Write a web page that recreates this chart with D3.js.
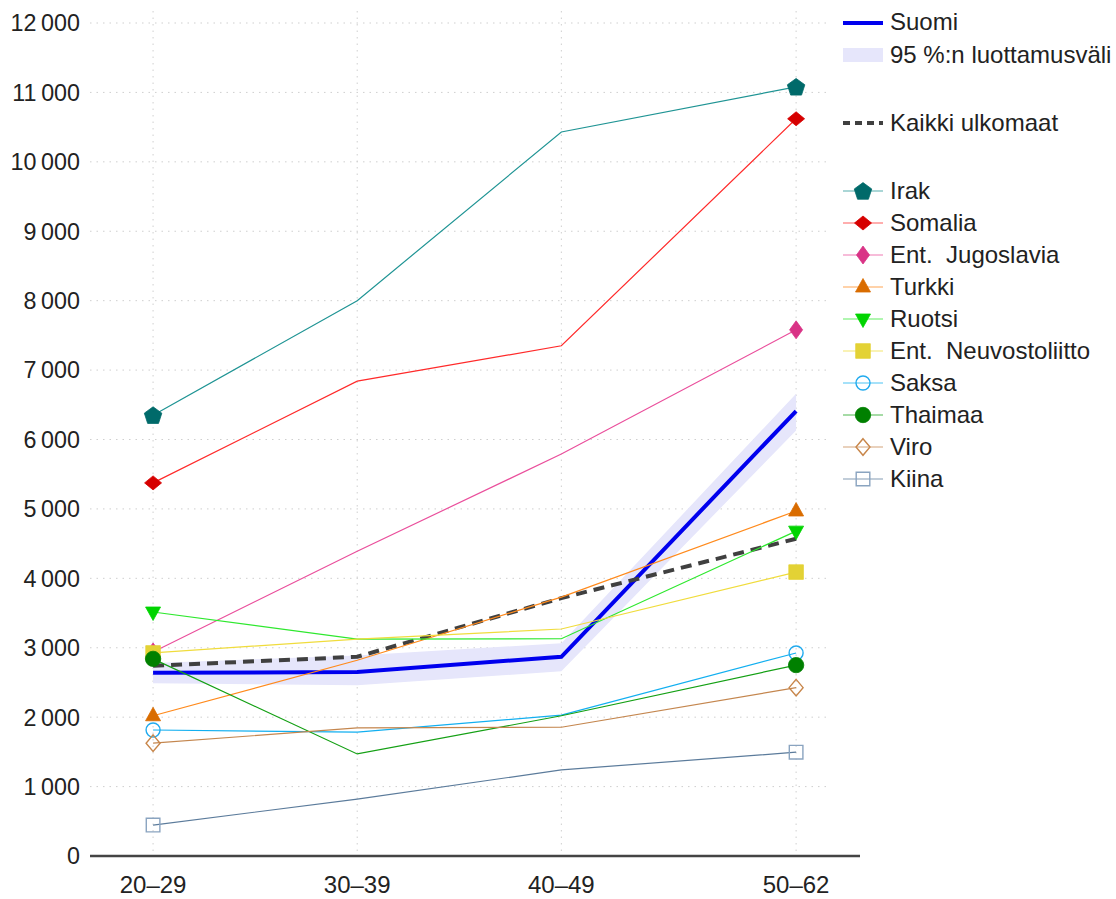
<!DOCTYPE html>
<html><head><meta charset="utf-8">
<script src="https://cdn.jsdelivr.net/npm/d3@7"></script>
<style>
body{margin:0;background:#fff;}
svg{display:block;font-family:"Liberation Sans",Arial,sans-serif;}
text{white-space:pre;}
</style></head>
<body><svg id="c" width="1116" height="899"></svg>
<script>
// ---- data ----
const categories = ["20–29","30–39","40–49","50–62"];
const ageMid = [24.5, 34.5, 44.5, 56];
const yTicks = [0,1000,2000,3000,4000,5000,6000,7000,8000,9000,10000,11000,12000];

const suomi = [2640, 2650, 2870, 6410];
const suomiLower = [2490, 2460, 2660, 6130];
const suomiUpper = [2780, 2890, 3065, 6660];
const kaikkiUlkomaat = [2740, 2870, 3715, 4570];

const seriesNames = ["Irak","Somalia","Ent.  Jugoslavia","Turkki","Ruotsi","Ent.  Neuvostoliitto","Saksa","Thaimaa","Viro","Kiina"];
const irak         = [6350, 8000, 10430, 11080];
const somalia      = [5375, 6840, 7350, 10620];
const jugoslavia   = [2940, 4390, 5790, 7580];
const turkki       = [2020, 2820, 3730, 4970];
const ruotsi       = [3515, 3125, 3130, 4680];
const neuvosto     = [2925, 3125, 3270, 4090];
const saksa        = [1815, 1785, 2030, 2925];
const thaimaa      = [2840, 1470, 2020, 2750];
const viro         = [1625, 1845, 1855, 2425];
const kiina        = [445, 820, 1240, 1495];
const seriesValues = [irak, somalia, jugoslavia, turkki, ruotsi, neuvosto, saksa, thaimaa, viro, kiina];

// styles
const lineColors   = ["#1f9494","#ff2a2a","#ea4f9c","#ff8a1c","#2ee82e","#f0dc3c","#12aff0","#14a014","#c4864e","#5b7b9b"];
const markerColors = ["#006a6a","#d60000","#d93386","#d96c00","#00d400","#e3d235","#20aaee","#008000","#c8864a","#8aa4c0"];
const markerShapes = ["pentagon","diamondWide","diamondTall","triUp","triDown","square","circleOpen","circle","diamondOpen","squareOpen"];

// ---- layout ----
const svg = d3.select("#c");
const X0 = 90, X1 = 860, GRID_X1 = 831;
const x = d3.scaleLinear().domain([21.41, 59.13]).range([X0, X1]);
const y = d3.scaleLinear().domain([0, 12000]).range([856, 23]);
const fmt = d3.formatLocale({decimal:",", thousands:"\u2009", grouping:[3], currency:["","€"]}).format(",d");

// grid
svg.append("g").selectAll("line").data(yTicks).join("line")
  .attr("x1", X0).attr("x2", GRID_X1)
  .attr("y1", d=>y(d)).attr("y2", d=>y(d))
  .attr("stroke","#cfcfcf").attr("stroke-width",1).attr("stroke-dasharray","1.5,5");
svg.append("g").selectAll("line").data(ageMid).join("line")
  .attr("x1", d=>x(d)).attr("x2", d=>x(d))
  .attr("y1", 11).attr("y2", 856)
  .attr("stroke","#cfcfcf").attr("stroke-width",1).attr("stroke-dasharray","1.5,5");

// y labels
svg.append("g").selectAll("text").data(yTicks).join("text")
  .attr("x", 80).attr("y", d=>y(d)).attr("dy","0.36em")
  .attr("text-anchor","end").attr("font-size",23.3).attr("fill","#222")
  .text(d=>fmt(d));
// x labels
svg.append("g").selectAll("text").data(categories).join("text")
  .attr("x", (d,i)=>x(ageMid[i])).attr("y", 893)
  .attr("text-anchor","middle").attr("font-size",24).attr("fill","#222")
  .text(d=>d);

// band
const area = d3.area().x((d,i)=>x(ageMid[i])).y0((d,i)=>y(suomiLower[i])).y1((d,i)=>y(suomiUpper[i]));
svg.append("path").datum(suomi).attr("d", area).attr("fill","#e6e6fb");

const line = d3.line().x((d,i)=>x(ageMid[i])).y(d=>y(d));
svg.append("path").datum(suomi).attr("d", line).attr("fill","none")
  .attr("stroke","#0000ee").attr("stroke-width",4).attr("stroke-linejoin","miter");
svg.append("path").datum(kaikkiUlkomaat).attr("d", line).attr("fill","none")
  .attr("stroke","#404040").attr("stroke-width",4).attr("stroke-dasharray","11,7");

// marker shapes
function shapePath(s){
  switch(s){
    case "pentagon": {
      const r=9.2, pts=[];
      for(let k=0;k<5;k++){const a=-Math.PI/2+k*2*Math.PI/5; pts.push([r*Math.cos(a), r*Math.sin(a)+0.8]);}
      return "M"+pts.map(p=>p.join(",")).join("L")+"Z";
    }
    case "diamondWide": return "M0,-7L8.5,0L0,7L-8.5,0Z";
    case "diamondTall": return "M0,-9L6.5,0L0,9L-6.5,0Z";
    case "diamondOpen": return "M0,-8.3L7,0L0,8.3L-7,0Z";
    case "triUp": return "M0,-8.5L7.5,5L-7.5,5Z";
    case "triDown": return "M-7.5,-5L7.5,-5L0,8.5Z";
    case "square": return "M-7.3,-7.3H7.3V7.3H-7.3Z";
    case "squareOpen": return "M-6.8,-6.8H6.8V6.8H-6.8Z";
    case "circle": return d3.symbol(d3.symbolCircle, Math.PI*7.7*7.7)();
    case "circleOpen": return d3.symbol(d3.symbolCircle, Math.PI*7*7)();
  }
}
function drawMarker(g, s, color, cx, cy){
  const open = s.endsWith("Open");
  g.append("path").attr("d", shapePath(s)).attr("transform",`translate(${cx},${cy})`)
    .attr("fill", open ? "#fff" : color).attr("fill-opacity", open ? 0 : 1)
    .attr("stroke", color).attr("stroke-width", open ? 1.4 : 0.8);
}

// series
const sg = svg.append("g");
seriesValues.forEach((vals, i)=>{
  sg.append("path").datum(vals).attr("d", line).attr("fill","none")
    .attr("stroke", lineColors[i]).attr("stroke-width",1.2);
});
seriesValues.forEach((vals, i)=>{
  [0, vals.length-1].forEach(j=>{
    drawMarker(sg, markerShapes[i], markerColors[i], x(ageMid[j]), y(vals[j]));
  });
});

// axis line
svg.append("line").attr("x1",X0).attr("x2",X1).attr("y1",856).attr("y2",856)
  .attr("stroke","#444").attr("stroke-width",2.5);

// legend
const L = svg.append("g");
const lx0 = 843, lx1 = 883, tx = 890, fs = 24;
function legText(yy, t){
  L.append("text").attr("x",tx).attr("y",yy).attr("dy","0.36em").attr("font-size",fs).attr("fill","#222").text(t);
}
L.append("line").attr("x1",lx0).attr("x2",lx1).attr("y1",23).attr("y2",23).attr("stroke","#0000ee").attr("stroke-width",4);
legText(21,"Suomi");
L.append("rect").attr("x",lx0).attr("y",48).attr("width",lx1-lx0).attr("height",14).attr("fill","#e6e6fb");
legText(54,"95 %:n luottamusväli");
L.append("line").attr("x1",lx0).attr("x2",lx1).attr("y1",123).attr("y2",123).attr("stroke","#404040").attr("stroke-width",4).attr("stroke-dasharray","7,5");
legText(122,"Kaikki ulkomaat");
seriesNames.forEach((n,i)=>{
  const yy = 191 + i*32;
  L.append("line").attr("x1",lx0).attr("x2",lx1).attr("y1",yy).attr("y2",yy).attr("stroke",lineColors[i]).attr("stroke-width",1.2).attr("stroke-opacity",0.75);
  drawMarker(L, markerShapes[i], markerColors[i], 863, yy);
  legText(yy-1, n);
});
</script></body></html>
